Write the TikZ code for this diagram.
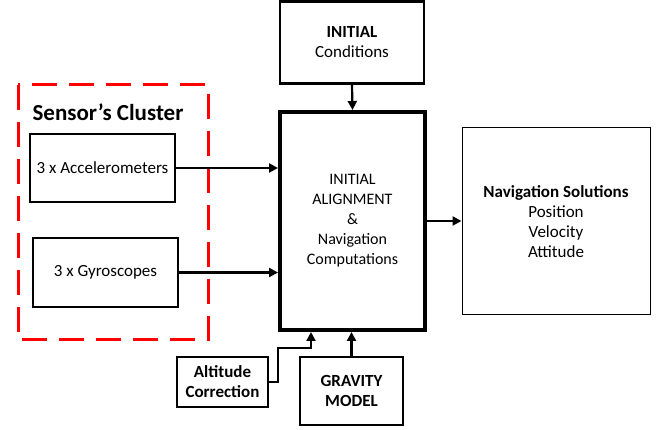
\documentclass[tikz,border=0pt]{standalone}
\usepackage{fontspec}
\setmainfont{Carlito}
\usetikzlibrary{arrows.meta}
\begin{document}
\begin{tikzpicture}[x=1pt,y=-1pt,
  blk/.style={draw=black,rectangle,align=center,inner sep=0pt,
    font=\fontsize{17}{20}\selectfont},
  arr/.style={line width=2.2pt,-{Triangle[length=9pt,width=9pt]}}]
\useasboundingbox (0,0) rectangle (662,430);

% sensor cluster frame
\draw[red,line width=3pt,dash pattern=on 25pt off 12pt] (18,85) rectangle (208,340);
\node[font=\bfseries\fontsize{23}{26}\selectfont] (cluster) at (108,112) {Sensor’s Cluster};

% blocks
\node[blk,line width=2.5pt,minimum width=145pt,minimum height=68pt] (acc) at (102.5,168) {3 x Accelerometers};
\node[blk,line width=2.5pt,minimum width=145pt,minimum height=69pt] (gyro) at (105.5,272.5) {3 x Gyroscopes};
\node[blk,line width=2.5pt,minimum width=144pt,minimum height=82pt] (init) at (352,42.5) {\textbf{INITIAL}\\Conditions};
\node[blk,line width=4pt,minimum width=145pt,minimum height=218pt,font=\fontsize{16}{20}\selectfont] (main) at (352.5,221)
  {INITIAL\\ALIGNMENT\\\&\\Navigation\\Computations};
\node[blk,line width=1pt,minimum width=188pt,minimum height=187pt] (nav) at (556,221.5)
  {\textbf{Navigation Solutions}\\Position\\Velocity\\Attitude};
\node[blk,line width=2.5pt,minimum width=91pt,minimum height=50pt,font=\bfseries\fontsize{17}{20}\selectfont] (alt) at (222.5,382) {Altitude\\Correction};
\node[blk,line width=2.5pt,minimum width=103pt,minimum height=68pt,font=\bfseries\fontsize{17}{20}\selectfont] (grav) at (351.5,391) {GRAVITY\\MODEL};

% connectors
\draw[arr] (acc.east) -- (acc.east -| main.west);
\draw[arr] (gyro.east) -- (gyro.east -| main.west);
\draw[arr] (init.south) -- (main.north);
\draw[arr] (main.east) -- (main.east -| nav.west);
\draw[arr] (grav.north) -- (grav.north |- main.south);
\coordinate (bend) at (278,348);
\coordinate (altin) at ([xshift=33pt]main.south west);
\draw[arr] (alt.east) -| (bend) -| (altin);
\end{tikzpicture}
\end{document}
